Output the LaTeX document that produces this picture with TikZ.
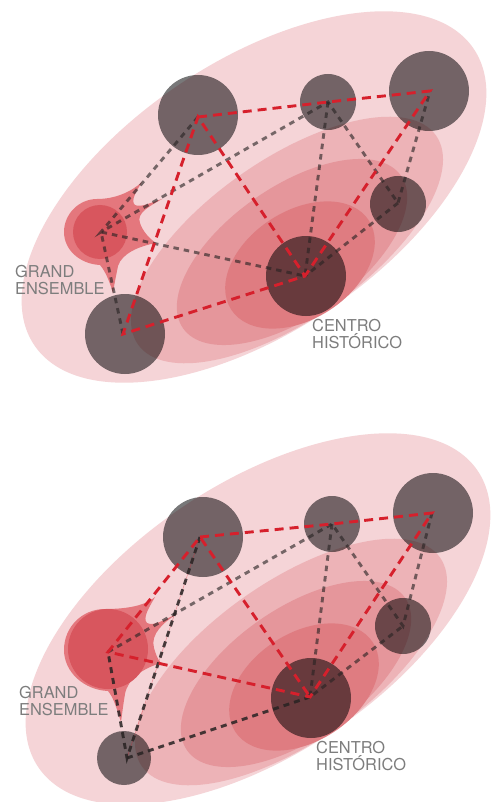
\documentclass[tikz,border=0pt]{standalone}
\usepackage{fontspec}
\setmainfont{TeX Gyre Heros}
\definecolor{pk1}{RGB}{245,212,215}
\definecolor{pk2}{RGB}{237,179,183}
\definecolor{pk3}{RGB}{229,150,155}
\definecolor{pk4}{RGB}{223,124,129}
\definecolor{blobc}{RGB}{228,119,125}
\definecolor{gecore}{RGB}{216,86,94}
\definecolor{circg}{RGB}{120,120,121}
\definecolor{redl}{RGB}{214,32,44}
\definecolor{grayl}{RGB}{40,35,35}
\definecolor{txt}{RGB}{125,125,125}
\tikzset{
  site/.style={circle, fill=circg, draw=none, inner sep=0pt, minimum size=#1},
  core/.style={circle, fill=gecore, draw=none, inner sep=0pt, minimum size=#1},
  redline/.style={draw=redl, line width=2.9pt, dash pattern=on 9pt off 6pt, line join=miter},
  grayline/.style={draw=grayl, draw opacity=0.62, line width=2.9pt, dash pattern=on 5.5pt off 5pt, line join=miter},
  darkline/.style={draw=grayl, draw opacity=0.85, line width=2.9pt, dash pattern=on 6pt off 5pt, line join=miter},
  lbl/.style={text=txt, font=\fontsize{16.4}{17}\selectfont, align=left, inner sep=0pt, anchor=north west},
}
\begin{document}
\begin{tikzpicture}[x=1pt,y=-1pt]
\useasboundingbox (0,0) rectangle (493,802);
\fill[white] (0,0) rectangle (493,802);

% ================= TOP PANEL =================
\fill[pk1, rotate around={34:(254,197)}] (254,197) ellipse [x radius=265pt, y radius=135pt];
\fill[pk2, rotate around={35:(287,240)}] (287,240) ellipse [x radius=182pt, y radius=80pt];
\fill[pk3, rotate around={35:(292,252)}] (292,252) ellipse [x radius=133pt, y radius=65pt];
\fill[pk4, rotate around={33:(300,265)}] (300,265) ellipse [x radius=82pt, y radius=54pt];
% grand ensemble blob
\fill[blobc] (64,232) .. controls (64,214) and (79,199) .. (97,199)
  .. controls (115,199) and (131,192) .. (142,182)
  .. controls (137,190) and (130,201) .. (135,205)
  .. controls (141,208) and (152,202) .. (162,199)
  .. controls (150,206) and (136,213) .. (140,223)
  .. controls (143,232) and (150,239) .. (156,243)
  .. controls (140,246) and (122,253) .. (118,266)
  .. controls (116,276) and (114,286) .. (113,293)
  .. controls (110,283) and (106,272) .. (100,265)
  .. controls (80,264) and (64,250) .. (64,232) -- cycle;
\node[core=54pt] (ge) at (100,232) {};
\begin{scope}[blend mode=multiply]
  \node[site=80pt] (c1) at (198,115) {};
  \node[site=56pt] (c2) at (328,102) {};
  \node[site=80pt] (c3) at (429,91) {};
  \node[site=56pt] (c4) at (398,204) {};
  \node[site=80pt] (c5) at (306,276) {};
  \node[site=80pt] (c6) at (125,334) {};
\end{scope}
\coordinate (hge) at (101,232);
\coordinate (h1) at (198,117);
\coordinate (h2) at (328,102);
\coordinate (h3) at (430,91);
\coordinate (h4) at (398,203);
\coordinate (h5) at (305,276);
\coordinate (h6) at (123,334);
\draw[grayline] (h1) -- (hge) -- (h2) -- (h4) -- (h3);
\draw[grayline] (h6) -- (hge) -- (h5) -- (h2);
\draw[grayline] (h4) -- (h5);
\draw[redline] (h1) -- (h2) -- (h3) -- (h5) -- (h6) -- (h1) -- (h5);
\node[lbl] (lge) at (15,265) {GRAND\\ENSEMBLE};
\node[lbl] (lch) at (312,319) {CENTRO\\HISTÓRICO};

% ================= BOTTOM PANEL =================
\begin{scope}[shift={(4,422)}]
\fill[pk1, rotate around={34:(254,197)}] (254,197) ellipse [x radius=265pt, y radius=135pt];
\fill[pk2, rotate around={35:(287,240)}] (287,240) ellipse [x radius=182pt, y radius=80pt];
\fill[pk3, rotate around={35:(292,252)}] (292,252) ellipse [x radius=133pt, y radius=65pt];
\fill[pk4, rotate around={33:(300,265)}] (300,265) ellipse [x radius=82pt, y radius=54pt];
\fill[blobc] (60,228) .. controls (60,205) and (78,187) .. (101,187)
  .. controls (125,187) and (142,183) .. (151,175)
  .. controls (146,184) and (138,196) .. (143,201)
  .. controls (150,205) and (163,196) .. (173,192)
  .. controls (160,200) and (146,212) .. (150,226)
  .. controls (152,233) and (154,238) .. (157,241)
  .. controls (140,246) and (124,256) .. (121,272)
  .. controls (119,284) and (118,293) .. (117,300)
  .. controls (113,288) and (110,276) .. (104,269)
  .. controls (80,268) and (60,250) .. (60,228) -- cycle;
\node[core=80pt] (geb) at (104,227) {};
\begin{scope}[blend mode=multiply]
  \node[site=80pt] (c1b) at (199,115) {};
  \node[site=56pt] (c2b) at (328,102) {};
  \node[site=80pt] (c3b) at (429,91) {};
  \node[site=56pt] (c4b) at (399,204) {};
  \node[site=80pt] (c5b) at (307,276) {};
  \node[site=54pt] (c6b) at (120,336) {};
\end{scope}
\coordinate (hgeb) at (104,230);
\coordinate (h1b) at (196,115);
\coordinate (h2b) at (328,102);
\coordinate (h3b) at (428,91);
\coordinate (h4b) at (399,204);
\coordinate (h5b) at (306,275);
\coordinate (h6b) at (123,336);
\draw[redl, line width=0.5pt, opacity=0.4] (h6b) -- (h1b);
\draw[darkline] (h1b) -- (h6b) -- (hgeb);
\draw[darkline] (h6b) -- (h5b);
\draw[grayline] (hgeb) -- (h2b) -- (h4b) -- (h3b);
\draw[grayline] (h2b) -- (h5b) -- (h4b);
\draw[redline] (h1b) -- (h2b) -- (h3b) -- (h5b) -- (hgeb) -- (h1b) -- (h5b);
\node[lbl] (lgeb) at (15,264) {GRAND\\ENSEMBLE};
\node[lbl] (lchb) at (312,319) {CENTRO\\HISTÓRICO};
\end{scope}
\end{tikzpicture}
\end{document}
